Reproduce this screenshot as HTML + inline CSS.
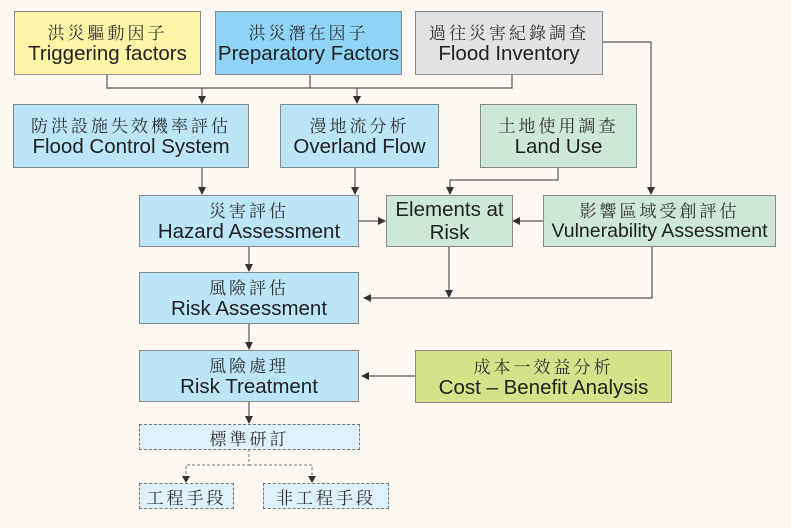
<!DOCTYPE html>
<html><head><meta charset="utf-8"><style>
body{margin:0;width:791px;height:528px;background:#fdf8f1;position:relative;overflow:hidden;font-family:"Liberation Sans","Noto Sans CJK TC",sans-serif;}
.b{position:absolute;box-sizing:border-box;border:1.5px solid #8a8a8a;display:flex;flex-direction:column;align-items:center;justify-content:center;text-align:center;color:#222;}
.c{font-family:"Noto Serif CJK SC","Noto Serif CJK TC",serif;font-size:17px;letter-spacing:3px;line-height:21px;color:#333}
.e{font-size:20.5px;line-height:23px;white-space:nowrap}
.d{border:1.2px dashed #777;background:#def0fa}
svg{position:absolute;left:0;top:0}
</style></head><body>
<svg width="791" height="528">
<defs><marker id="a" markerWidth="8" markerHeight="8" refX="7" refY="4" orient="auto" markerUnits="userSpaceOnUse"><path d="M0,0L8,4L0,8z" fill="#333"/></marker></defs>
<g stroke="#555" stroke-width="1.2" fill="none">
<polyline points="107,74 107,88 512,88 512,74"/>
<line x1="310" y1="74" x2="310" y2="88"/>
<line x1="202" y1="88" x2="202" y2="103" marker-end="url(#a)"/>
<line x1="357" y1="88" x2="357" y2="103" marker-end="url(#a)"/>
<polyline points="602,42 651,42 651,194" marker-end="url(#a)"/>
<line x1="202" y1="168" x2="202" y2="194" marker-end="url(#a)"/>
<line x1="355" y1="168" x2="355" y2="194" marker-end="url(#a)"/>
<polyline points="558,168 558,180 450,180 450,194" marker-end="url(#a)"/>
<line x1="358" y1="221" x2="385" y2="221" marker-end="url(#a)"/>
<line x1="543" y1="221" x2="513" y2="221" marker-end="url(#a)"/>
<line x1="249" y1="246" x2="249" y2="271" marker-end="url(#a)"/>
<line x1="449" y1="246" x2="449" y2="297" marker-end="url(#a)"/>
<polyline points="652,246 652,298 364,298" marker-end="url(#a)"/>
<line x1="249" y1="323" x2="249" y2="349" marker-end="url(#a)"/>
<line x1="415" y1="376" x2="362" y2="376" marker-end="url(#a)"/>
<line x1="249" y1="401" x2="249" y2="423" marker-end="url(#a)"/>
</g>
<g stroke="#777" stroke-width="1" stroke-dasharray="3,2" fill="none">
<polyline points="249,449 249,465 186,465 186,482"/>
<polyline points="249,465 312,465 312,482"/>
</g>
<path d="M182,476L190,476L186,483z M308,476L316,476L312,483z" fill="#333"/>
</svg>
<div class="b" style="left:14px;top:11px;width:187px;height:64px;background:#fdf4a6"><div class="c">洪災驅動因子</div><div class="e">Triggering factors</div></div>
<div class="b" style="left:215px;top:11px;width:187px;height:64px;background:#8fd4f5"><div class="c">洪災潛在因子</div><div class="e">Preparatory Factors</div></div>
<div class="b" style="left:415px;top:11px;width:188px;height:64px;background:#e1e2e4"><div class="c">過往災害紀錄調查</div><div class="e">Flood Inventory</div></div>
<div class="b" style="left:13px;top:104px;width:236px;height:64px;background:#bce5f7"><div class="c">防洪設施失效機率評估</div><div class="e">Flood Control System</div></div>
<div class="b" style="left:280px;top:104px;width:159px;height:64px;background:#bce5f7"><div class="c">漫地流分析</div><div class="e">Overland Flow</div></div>
<div class="b" style="left:480px;top:104px;width:157px;height:64px;background:#cde8d7"><div class="c">土地使用調查</div><div class="e">Land Use</div></div>
<div class="b" style="left:139px;top:195px;width:220px;height:52px;background:#bce5f7"><div class="c">災害評估</div><div class="e">Hazard Assessment</div></div>
<div class="b" style="left:386px;top:195px;width:127px;height:52px;background:#cde8d7"><div class="e">Elements at</div><div class="e">Risk</div></div>
<div class="b" style="left:543px;top:195px;width:233px;height:52px;background:#cde8d7"><div class="c">影響區域受創評估</div><div class="e" style="font-size:19.5px">Vulnerability Assessment</div></div>
<div class="b" style="left:139px;top:272px;width:220px;height:52px;background:#bce5f7"><div class="c">風險評估</div><div class="e">Risk Assessment</div></div>
<div class="b" style="left:139px;top:350px;width:220px;height:52px;background:#bce5f7"><div class="c">風險處理</div><div class="e">Risk Treatment</div></div>
<div class="b" style="left:415px;top:350px;width:257px;height:53px;background:#d4e38a"><div class="c">成本一效益分析</div><div class="e">Cost – Benefit Analysis</div></div>
<div class="b d" style="left:139px;top:424px;width:221px;height:26px"><div class="c">標準研訂</div></div>
<div class="b d" style="left:139px;top:483px;width:95px;height:26px"><div class="c">工程手段</div></div>
<div class="b d" style="left:263px;top:483px;width:126px;height:26px"><div class="c">非工程手段</div></div>
</body></html>
